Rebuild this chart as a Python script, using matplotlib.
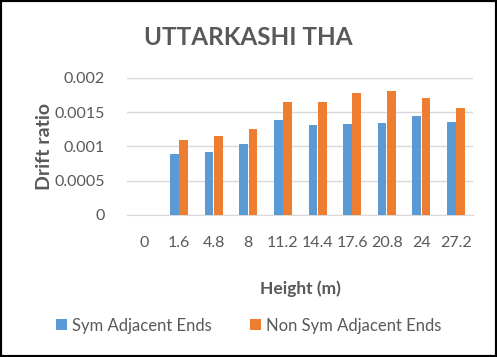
import numpy as np
import matplotlib
matplotlib.use("Agg")
import matplotlib.pyplot as plt
from matplotlib.patches import Rectangle

# Datos
alturas = ["0", "1.6", "4.8", "8", "11.2", "14.4", "17.6", "20.8", "24", "27.2"]
sym_ends = [0, 0.00089, 0.00092, 0.00103, 0.00139, 0.00131, 0.00133, 0.00134, 0.00144, 0.00136]
non_sym_ends = [0, 0.00110, 0.00115, 0.00125, 0.00165, 0.00165, 0.00178, 0.00181, 0.00171, 0.00156]

plt.rcParams['font.family'] = ['Lato', 'DejaVu Sans']
gris = '#595959'

fig = plt.figure(figsize=(4.97, 3.57), dpi=100)
ax = fig.add_axes([0.2555, 0.398, 0.697, 0.384])

x = np.arange(len(alturas))
ancho = 0.25
ax.bar(x - 0.135, sym_ends, ancho, color='#5B9BD5', label='Sym Adjacent Ends', zorder=3)
ax.bar(x + 0.135, non_sym_ends, ancho, color='#ED7D31', label='Non Sym Adjacent Ends', zorder=3)

ax.set_xlim(-0.5, len(alturas) - 0.5)
ax.set_ylim(0, 0.002)
ax.set_yticks([0, 0.0005, 0.001, 0.0015, 0.002])
ax.set_yticklabels(['0', '0.0005', '0.001', '0.0015', '0.002'])
ax.set_xticks(x)
ax.set_xticklabels(alturas)
ax.tick_params(axis='both', length=0, labelsize=11.5, colors=gris)
ax.tick_params(axis='y', pad=16)
ax.tick_params(axis='x', pad=15)
ax.grid(axis='y', color='#D9D9D9', linewidth=1, zorder=0)
for lado in ['top', 'right', 'left']:
    ax.spines[lado].set_visible(False)
ax.spines['bottom'].set_color('#D9D9D9')

ax.set_ylabel('Drift ratio', fontsize=14, fontweight='bold', color=gris, labelpad=1)
ax.set_xlabel('Height (m)', fontsize=12.5, fontweight='bold', color=gris, labelpad=22)
fig.text(0.5, 0.895, 'UTTARKASHI THA', ha='center', va='center', fontsize=17.5,
         fontweight='bold', color=gris)

fig.legend(loc='center', bbox_to_anchor=(0.5, 0.088), ncol=2, frameon=False,
           fontsize=12, labelcolor=gris, handlelength=0.65, handleheight=0.65,
           handletextpad=0.3, columnspacing=2.3)

# Borde negro
fig.patches.append(Rectangle((0, 0), 1, 1, transform=fig.transFigure, fill=False,
                             edgecolor='black', linewidth=3))

fig.savefig('out.png', dpi=100)
